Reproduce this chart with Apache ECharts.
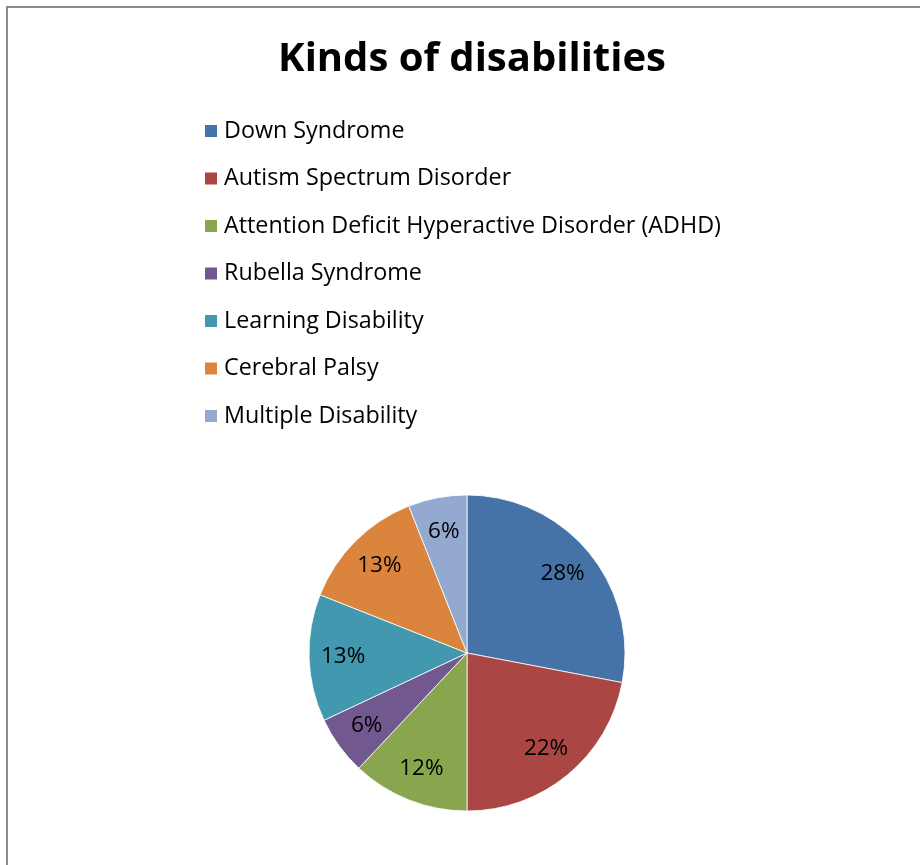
<!DOCTYPE html>
<html>
<head>
<meta charset="utf-8">
<script src="https://cdn.jsdelivr.net/npm/echarts@6/dist/echarts.min.js"></script>
<style>html,body{margin:0;padding:0;background:#fff}#c{width:920px;height:865px}</style>
</head>
<body>
<div id="c"></div>
<script>
const categories = ["Down Syndrome","Autism Spectrum Disorder","Attention Deficit Hyperactive Disorder (ADHD)","Rubella Syndrome","Learning Disability","Cerebral Palsy","Multiple Disability"];
const values = [28, 22, 12, 6, 13, 13, 6];
const colors = ["#4572A7","#AA4643","#89A54E","#71588F","#4198AF","#DB843D","#93A9CF"];
const FONT = "Open Sans";

const data = categories.map((n, i) => ({ name: n, value: values[i] }));
const chart = echarts.init(document.getElementById('c'), null, { renderer: 'canvas' });
chart.setOption({
  animation: false,
  color: colors,
  title: {
    text: "Kinds of disabilities",
    left: 467, top: 35, textAlign: 'center',
    textStyle: { fontFamily: FONT, fontSize: 40, fontWeight: 'bold', color: '#000' }
  },
  legend: {
    orient: 'vertical', left: 198, top: 114,
    icon: 'rect', itemWidth: 14, itemHeight: 14, itemGap: 23.5,
    textStyle: { fontFamily: FONT, fontSize: 23.3, color: '#000', lineHeight: 24, padding: [0, 0, 0, 1] },
    data: categories
  },
  graphic: [{
    type: 'rect', silent: true, z: -10,
    shape: { x: 7, y: 7, width: 930, height: 900 },
    style: { fill: null, stroke: '#8c8c8c', lineWidth: 2 }
  }],
  series: [{
    type: 'pie', center: [467, 653], radius: [0, 158], startAngle: 90, clockwise: true,
    avoidLabelOverlap: false, silent: true,
    itemStyle: { borderColor: '#ffffff', borderWidth: 0.8 },
    label: { show: false }, labelLine: { show: false },
    data: data
  }, {
    type: 'pie', center: [467, 653], radius: [84, 158], startAngle: 90, clockwise: true,
    avoidLabelOverlap: false, silent: true, legendHoverLink: false,
    itemStyle: { color: 'rgba(0,0,0,0)', borderWidth: 0 },
    label: { show: true, position: 'inside', formatter: p => p.value + '%',
             fontFamily: FONT, fontSize: 22.5, color: '#000' },
    labelLine: { show: false },
    data: data
  }]
});
</script>
</body>
</html>
